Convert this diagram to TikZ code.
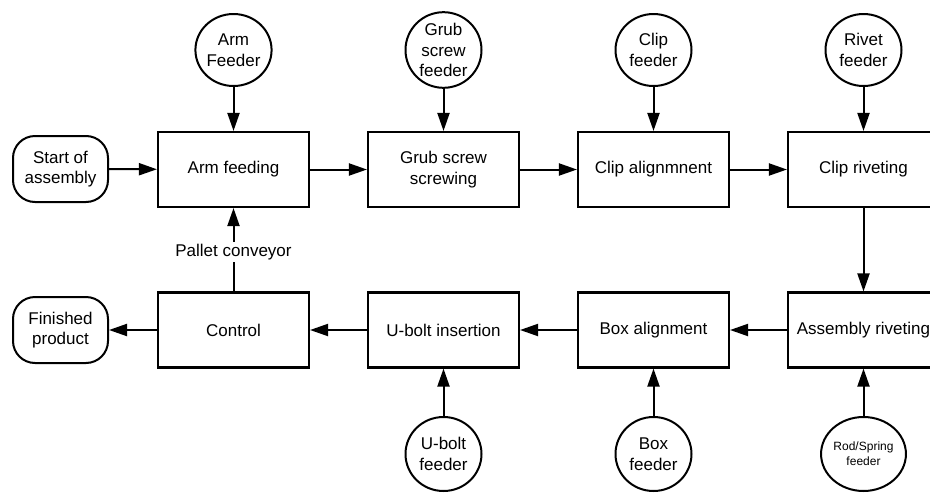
\documentclass[tikz,border=0pt]{standalone}
\usepackage{fontspec}
\setmainfont{Liberation Sans}
\usetikzlibrary{arrows.meta,shapes.geometric}
\begin{document}
\begin{tikzpicture}[x=1pt,y=-1pt,
  every node/.style={font=\fontsize{17}{20.5}\selectfont, align=center, text=black},
  stepbox/.style={draw, line width=2.1pt, minimum width=151pt, minimum height=75pt, inner sep=2pt},
  feeder/.style={draw, ellipse, line width=2pt, minimum width=76pt, minimum height=72pt, inner sep=0pt},
  terminal/.style={draw, line width=2pt, rounded corners=22pt, minimum width=95pt, minimum height=66pt, inner sep=0pt},
  flow/.style={line width=2pt, -{Triangle[length=18pt,width=12pt]}}
]
\useasboundingbox (0,0) rectangle (930,493);
\clip (0,0) rectangle (930,493);

% process stations, upper row
\node[stepbox] (arm)   at (233.5,169.5) {Arm feeding};
\node[stepbox] (grub)  at (443.5,169.5) {Grub screw\\screwing};
\node[stepbox] (clipa) at (653.5,169.5) {Clip alignmnent};
\node[stepbox] (clipr) at (863.5,169.5) {Clip riveting};

% process stations, lower row
\node[stepbox] (ctrl)  at (233.5,330) {Control};
\node[stepbox] (ubolt) at (443.5,330) {U-bolt insertion};
\node[stepbox] (boxa)  at (653.5,330) {Box alignment};
\node[stepbox] (asmr)  at (863.5,330) {Assembly riveting};

% start and end
\node[terminal] (start) at (60.5,169) {Start of\\assembly};
\node[terminal] (fin)   at (60.5,330) {Finished\\product};

% part feeders
\node[feeder] (farm)  at (233.5,50) {Arm\\Feeder};
\node[feeder] (fgrub) at (443.5,50) {Grub\\screw\\feeder};
\node[feeder] (fclip) at (653.5,50) {Clip\\feeder};
\node[feeder] (friv)  at (863.5,50) {Rivet\\feeder};
\node[feeder, minimum height=74pt] (fub)   at (443.5,454) {U-bolt\\feeder};
\node[feeder, minimum height=74pt] (fbox)  at (653.5,454) {Box\\feeder};
\node[feeder, minimum height=74pt, font=\fontsize{12}{15}\selectfont] (frod) at (863.5,454) {Rod/Spring\\feeder};

% main flow
\draw[flow] (start) -- (arm);
\draw[flow] (arm) -- (grub);
\draw[flow] (grub) -- (clipa);
\draw[flow] (clipa) -- (clipr);
\draw[flow] (clipr) -- (asmr);
\draw[flow] (asmr) -- (boxa);
\draw[flow] (boxa) -- (ubolt);
\draw[flow] (ubolt) -- (ctrl);
\draw[flow] (ctrl) -- (fin);
\draw[flow] (ctrl) -- node[fill=white, inner sep=2pt, pos=0.47] {Pallet conveyor} (arm);

% feeders into stations
\draw[flow] (farm) -- (arm);
\draw[flow] (fgrub) -- (grub);
\draw[flow] (fclip) -- (clipa);
\draw[flow] (friv) -- (clipr);
\draw[flow] (fub) -- (ubolt);
\draw[flow] (fbox) -- (boxa);
\draw[flow] (frod) -- (asmr);
\end{tikzpicture}
\end{document}
